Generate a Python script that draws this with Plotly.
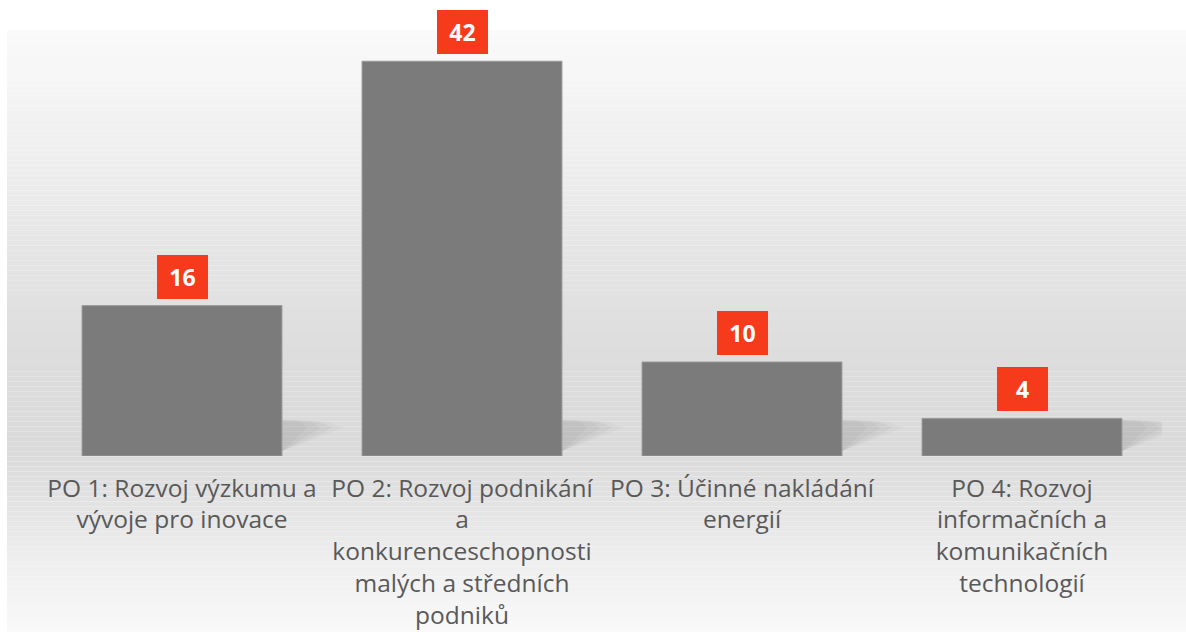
import plotly.graph_objects as go

categories = [
    "PO 1: Rozvoj výzkumu a<br>vývoje pro inovace",
    "PO 2: Rozvoj podnikání<br>a<br>konkurenceschopnosti<br>malých a středních<br>podniků",
    "PO 3: Účinné nakládání<br>energií",
    "PO 4: Rozvoj<br>informačních a<br>komunikačních<br>technologií",
]
values = [16, 42, 10, 4]

W, H = 1186, 632
ML, MR, MT, MB = 42, 24, 10, 176
YMAX = 47.45

fig = go.Figure()
fig.add_trace(go.Bar(
    x=list(range(len(values))), y=values,
    marker=dict(color="#7b7b7b", line=dict(color="#9a9a9a", width=1)),
    width=0.714, hoverinfo="skip",
))

# background gradient (style)
stops = [(30, 250), (150, 239), (250, 229), (350, 221), (450, 218), (500, 226), (560, 238), (632, 249)]
def shade(py):
    for (a, ca), (b, cb) in zip(stops, stops[1:]):
        if a <= py <= b:
            return ca + (cb - ca) * (py - a) / (b - a)
    return stops[-1][1]

shapes = []
n = 120
y0p, y1p = 30, H
ph = H - MT - MB
for i in range(n):
    ta = y0p + (y1p - y0p) * i / n
    tb = y0p + (y1p - y0p) * (i + 1) / n
    c = int(round(shade((ta + tb) / 2)))
    shapes.append(dict(
        type="rect", xref="paper", yref="paper", layer="below",
        x0=(7 - ML) / (W - ML - MR), x1=(W - ML) / (W - ML - MR) + 0.01,
        y0=(H - MB - tb) / ph, y1=(H - MB - ta) / ph,
        fillcolor=f"rgb({c},{c},{c})", line=dict(width=0),
    ))

# soft shadows to the right of each bar's base
for i, v in enumerate(values):
    xr = i + 0.357
    h = min(v, 3.8)
    for dx, op in [(0.22, 0.05), (0.18, 0.06), (0.14, 0.07), (0.09, 0.07)]:
        shapes.append(dict(
            type="path", xref="x", yref="y", layer="below",
            path=(f"M {xr},{0.5} L {xr+dx},{h*0.8} L {xr+dx*0.7},{h*0.97} "
                  f"L {xr},{h} Z"),
            fillcolor=f"rgba(110,110,110,{op})", line=dict(width=0),
        ))

annotations = []
for i, v in enumerate(values):
    annotations.append(dict(
        x=i, y=v, xref="x", yref="y", text=f"<b>{v}</b>",
        showarrow=False, yanchor="bottom", yshift=7,
        font=dict(family="Open Sans", size=23, color="white"),
        bgcolor="#f53b1c", width=51, height=44, borderpad=0, borderwidth=0,
    ))

fig.update_layout(
    width=W, height=H,
    margin=dict(l=ML, r=MR, t=MT, b=MB),
    paper_bgcolor="white", plot_bgcolor="rgba(0,0,0,0)",
    shapes=shapes, annotations=annotations, showlegend=False,
    xaxis=dict(
        tickmode="array", tickvals=list(range(len(values))), ticktext=categories,
        range=[-0.5, len(values) - 0.5], showgrid=False, zeroline=False, showline=False,
        tickfont=dict(family="Open Sans", size=24.5, color="#595959"), ticks="",
        ticklabelstandoff=15, automargin=False,
    ),
    yaxis=dict(range=[0, YMAX], visible=False, automargin=False),
)

fig.write_html("out.html", config={"displayModeBar": False},
               post_script="document.body.style.margin='0px';")
